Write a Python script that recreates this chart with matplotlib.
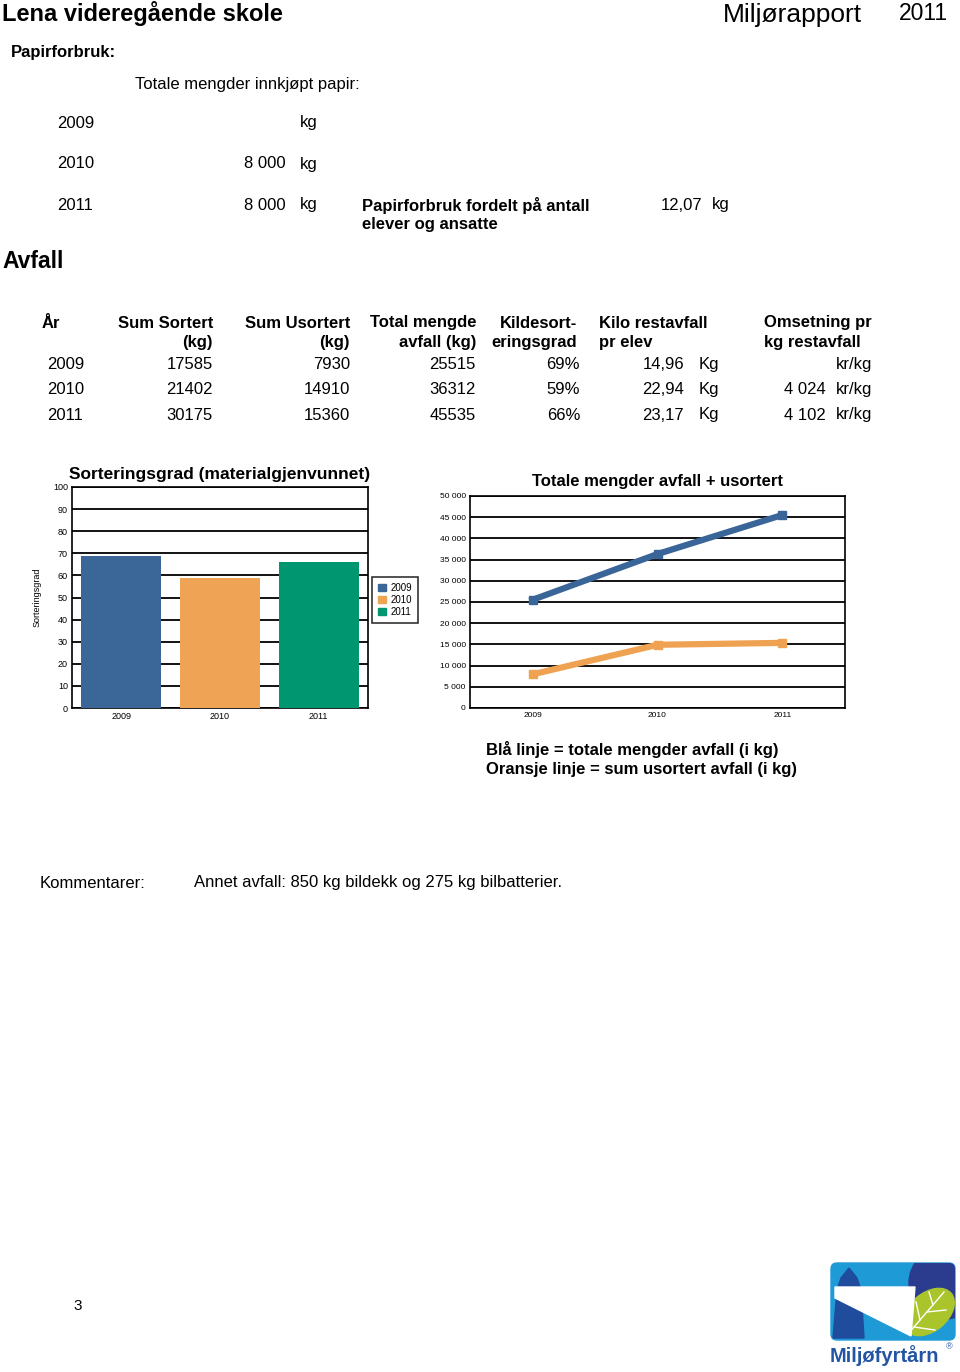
import numpy as np
import matplotlib
matplotlib.use("Agg")
import matplotlib.pyplot as plt
from matplotlib.patches import Patch, FancyBboxPatch, Polygon, Ellipse, Circle

plt.rcParams['font.family'] = ['Liberation Sans', 'DejaVu Sans']

W, H = 960, 1372

# ---- data ----
years = ["2009", "2010", "2011"]
paper_kg = ["", "8 000", "8 000"]
paper_per_person = "12,07"
sum_sortert = [17585, 21402, 30175]
sum_usortert = [7930, 14910, 15360]
total_avfall = [25515, 36312, 45535]
sorteringsgrad = [69, 59, 66]
kilo_rest_pr_elev = ["14,96", "22,94", "23,17"]
omsetning = ["", "4 024", "4 102"]

bar_colors = ["#3A6698", "#EFA354", "#009670"]
blue_line = "#3A6599"
orange_line = "#F0A253"

fig = plt.figure(figsize=(W / 100, H / 100), dpi=100)


def T(x, y, s, size=12, ha="left", weight="normal", **kw):
    fig.text(x / W, 1 - y / H, s, fontsize=size, ha=ha, va="center",
             fontweight=weight, **kw)


# ---- header ----
T(2, 13, "Lena videregående skole", size=17, weight="bold")
T(723, 15, "Miljørapport", size=19)
T(899, 14, "2011", size=16.5)

# ---- paper ----
T(11, 53, "Papirforbruk:", size=12, weight="bold")
T(135, 84, "Totale mengder innkjøpt papir:", size=12)
for i, (yr, kg) in enumerate(zip(years, paper_kg)):
    y = 123 + i * 41
    T(57, y, yr)
    T(286, y, kg, ha="right")
    T(300, y, "kg")
T(362, 205, "Papirforbruk fordelt på antall", weight="bold")
T(362, 224, "elever og ansatte", weight="bold")
T(702, 205, paper_per_person, ha="right")
T(712, 205, "kg")

# ---- waste table ----
T(2, 262, "Avfall", size=16.5, weight="bold")
hdr = [(42, "left", "År", ""), (213, "right", "Sum Sortert", "(kg)"),
       (350, "right", "Sum Usortert", "(kg)"),
       (476, "right", "Total mengde", "avfall (kg)"),
       (577, "right", "Kildesort-", "eringsgrad"),
       (599, "left", "Kilo restavfall", "pr elev"),
       (764, "left", "Omsetning pr", "kg restavfall")]
for x, ha, l1, l2 in hdr:
    T(x, 323, l1, weight="bold", ha=ha)
    if l2:
        T(x, 342, l2, weight="bold", ha=ha)
for i, yr in enumerate(years):
    y = 364 + i * 25.5
    T(47, y, yr)
    T(213, y, str(sum_sortert[i]), ha="right")
    T(350, y, str(sum_usortert[i]), ha="right")
    T(476, y, str(total_avfall[i]), ha="right")
    T(580, y, f"{sorteringsgrad[i]}%", ha="right")
    T(684, y, kilo_rest_pr_elev[i], ha="right")
    T(699, y, "Kg")
    T(826, y, omsetning[i], ha="right")
    T(836, y, "kr/kg")

# ---- bar chart ----
axb = fig.add_axes([72 / W, 1 - 708 / H, 296 / W, 221 / H])
x = np.arange(len(years))
axb.bar(x, sorteringsgrad, width=0.81, color=bar_colors, zorder=3)
axb.set_xlim(-0.5, 2.5)
axb.set_ylim(0, 100)
axb.set_yticks(np.arange(0, 101, 10))
axb.set_xticks(x)
axb.set_xticklabels(years)
axb.grid(axis="y", color="black", linewidth=1.3, zorder=1)
axb.tick_params(labelsize=6.5, length=0, pad=3)
for sp in axb.spines.values():
    sp.set_linewidth(1.2)
axb.set_ylabel("Sorteringsgrad", fontsize=6.5, labelpad=8)
axb.set_title("Sorteringsgrad (materialgjenvunnet)", fontsize=12.5,
              fontweight="bold", pad=6)
handles = [Patch(color=c, label=yr) for c, yr in zip(bar_colors, years)]
leg = axb.legend(handles=handles, loc="upper left",
                 bbox_to_anchor=(372 / W, 1 - 577 / H),
                 bbox_transform=fig.transFigure, fontsize=7, fancybox=False,
                 edgecolor="black", handlelength=0.8, handleheight=0.8,
                 handletextpad=0.5, borderpad=0.6, labelspacing=0.2,
                 borderaxespad=0)
leg.get_frame().set_linewidth(1.2)

# ---- line chart ----
axl = fig.add_axes([470 / W, 1 - 708 / H, 375 / W, 212 / H])
axl.plot(x, total_avfall, color=blue_line, linewidth=4.5, marker="s",
         markersize=6, zorder=3)
axl.plot(x, sum_usortert, color=orange_line, linewidth=4.5, marker="s",
         markersize=6, zorder=3)
axl.set_xlim(-0.5, 2.5)
axl.set_ylim(0, 50000)
yt = np.arange(0, 50001, 5000)
axl.set_yticks(yt)
axl.set_yticklabels([f"{v:,}".replace(",", " ") for v in yt])
axl.set_xticks(x)
axl.set_xticklabels(years)
axl.grid(axis="y", color="black", linewidth=1.3, zorder=1)
axl.tick_params(labelsize=6, length=0, pad=3)
for sp in axl.spines.values():
    sp.set_linewidth(1.2)
axl.set_title("Totale mengder avfall + usortert", fontsize=12,
              fontweight="bold", pad=7)

T(486, 749, "Blå linje = totale mengder avfall (i kg)", weight="bold")
T(486, 769, "Oransje linje = sum usortert avfall (i kg)", weight="bold")

T(40, 883, "Kommentarer:")
T(194, 883, "Annet avfall: 850 kg bildekk og 275 kg bilbatterier.")

T(73, 1306, "3", size=11)

# ---- logo ----
axg = fig.add_axes([826 / W, 0, 134 / W, 114 / H])
axg.set_xlim(826, 960)
axg.set_ylim(1372, 1258)
axg.axis("off")
bg = FancyBboxPatch((831, 1263), 124, 77, boxstyle="round,pad=0,rounding_size=6",
                    color="#1E9AD6", zorder=1)
axg.add_patch(bg)
circ = Circle((945, 1283), 36, color="#2B3C8E", zorder=2)
axg.add_patch(circ)
circ.set_clip_path(bg)
leaf = Ellipse((929, 1312), 58, 38, angle=-40, color="#A9C52B", zorder=3)
axg.add_patch(leaf)
leaf.set_clip_path(bg)
axg.add_patch(Polygon([(833, 1338), (837, 1290), (841, 1278), (849, 1268),
                       (857, 1278), (861, 1290), (864, 1338)],
                      closed=True, color="#1F4C9C", zorder=4))
axg.add_patch(Polygon([(835, 1287), (915, 1287), (911, 1336), (835, 1298)],
                      closed=True, color="white", zorder=5))
for (x0, y0, x1, y1) in [(908, 1334, 944, 1292), (920, 1320, 916, 1302),
                         (927, 1312, 946, 1310), (933, 1305, 929, 1292),
                         (914, 1327, 935, 1330)]:
    axg.plot([x0, x1], [y0, y1], color="white", linewidth=1, zorder=6)
axg.text(830, 1356, "Miljøfyrtårn", color="#2355A3", fontsize=14.5,
         fontweight="bold", va="center", ha="left", zorder=6)
axg.text(946, 1347, "®", color="#2355A3", fontsize=6.5, va="center", ha="left")

fig.savefig("out.png", dpi=100)
